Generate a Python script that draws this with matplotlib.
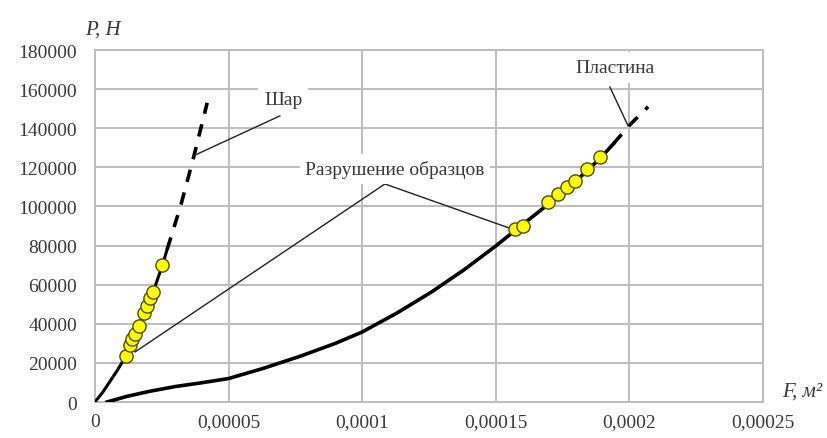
import matplotlib
matplotlib.use("Agg")
import matplotlib.pyplot as plt

# Шар (ball) curve: solid part and dashed extension
shar_F = [0.0, 0.28e-5, 0.56e-5, 0.85e-5, 1.16e-5, 1.4e-5, 1.65e-5, 1.9e-5, 2.17e-5, 2.5e-5, 2.7e-5]
shar_P = [0, 4800, 10500, 16500, 23500, 31000, 39000, 47500, 56000, 69000, 78000]
shar_dash_F = [2.7e-5, 3.2e-5, 3.67e-5, 4.2e-5]
shar_dash_P = [78000, 100000, 124000, 153000]

# Шар test points (failure)
shar_pts_F = [1.16e-5, 1.30e-5, 1.40e-5, 1.50e-5, 1.65e-5, 1.83e-5, 1.95e-5, 2.06e-5, 2.17e-5, 2.50e-5]
shar_pts_P = [23500, 29000, 32000, 35000, 39000, 45500, 49000, 53000, 56000, 70000]

# Пластина (plate) curve
plate_F = [0.45e-5, 1.2e-5, 2.06e-5, 3.0e-5, 3.93e-5, 5.0e-5, 6.3e-5, 7.7e-5, 9.0e-5,
           1.0e-4, 1.13e-4, 1.26e-4, 1.38e-4, 1.5e-4, 1.57e-4, 1.7e-4, 1.8e-4, 1.89e-4, 1.94e-4]
plate_P = [0, 2900, 5500, 7900, 9700, 12000, 17200, 23500, 30000,
           35800, 45500, 56300, 67500, 79800, 87500, 101500, 113000, 124500, 132000]
plate_dash_F = [1.94e-4, 2.0e-4, 2.07e-4]
plate_dash_P = [132000, 141500, 151000]

# Пластина test points
plate_pts_F = [1.572e-4, 1.60e-4, 1.695e-4, 1.733e-4, 1.766e-4, 1.796e-4, 1.84e-4, 1.89e-4]
plate_pts_P = [88500, 90000, 102300, 106400, 110000, 113000, 119000, 125300]

x_ticks = [0, 0.00005, 0.0001, 0.00015, 0.0002, 0.00025]
x_labels = ["0", "0,00005", "0,0001", "0,00015", "0,0002", "0,00025"]
y_ticks = list(range(0, 180001, 20000))

plt.rcParams['font.family'] = ['Liberation Serif', 'DejaVu Serif']

fig = plt.figure(figsize=(8.28, 4.39), dpi=100)
ax = fig.add_axes([0.1147, 0.082, 0.8068, 0.8018])

grid_c = '#bdbdbd'
txt_c = '#3a3a3a'

ax.set_xlim(0, 0.00025)
ax.set_ylim(0, 180000)
ax.set_xticks(x_ticks)
ax.set_xticklabels(x_labels)
ax.set_yticks(y_ticks)
ax.set_yticklabels([str(v) for v in y_ticks])
ax.tick_params(length=0, labelsize=14, labelcolor=txt_c)
ax.tick_params(axis='y', pad=13)
ax.tick_params(axis='x', pad=8)
ax.grid(True, color=grid_c, linewidth=1.4, zorder=0)
ax.set_axisbelow(True)
for s in ax.spines.values():
    s.set_color(grid_c)
    s.set_linewidth(1.4)

# curves
ax.plot(shar_F, shar_P, color='black', lw=2.2, zorder=3)
ax.plot(shar_dash_F, shar_dash_P, color='black', lw=2.6, ls=(0, (3.5, 3)), zorder=3)
ax.plot(plate_F, plate_P, color='black', lw=2.6, zorder=3)
ax.plot(plate_dash_F, plate_dash_P, color='black', lw=2.6, ls=(0, (3.5, 3)), zorder=3)

# leader lines
ax.plot([1.5e-5, 1.085e-4, 1.56e-4], [25600, 111500, 88500], color='#222222', lw=1.0, zorder=4)
ax.plot([6.92e-5, 3.67e-5], [146300, 125800], color='#222222', lw=1.0, zorder=4)
ax.plot([1.927e-4, 1.995e-4], [161100, 141200], color='#222222', lw=1.0, zorder=4)

# markers
ax.plot(shar_pts_F, shar_pts_P, ls='none', marker='o', ms=9.5, mfc='#ffff00',
        mec='#4d4d00', mew=1.0, zorder=5)
ax.plot(plate_pts_F, plate_pts_P, ls='none', marker='o', ms=9.5, mfc='#ffff00',
        mec='#4d4d00', mew=1.0, zorder=5)

box = dict(facecolor='white', edgecolor='none', pad=4)
ax.text(7.04e-5, 154500, "Шар", fontsize=14, color=txt_c, ha='center', va='center',
        bbox=box, zorder=6)
ax.text(1.123e-4, 119200, "Разрушение образцов", fontsize=14, color=txt_c,
        ha='center', va='center', bbox=box, zorder=6)
ax.text(1.946e-4, 171000, "Пластина", fontsize=14, color=txt_c, ha='center',
        va='center', bbox=dict(facecolor='white', edgecolor='none', pad=5), zorder=6)

ax.text(0.012, 1.06, "P, Н", transform=ax.transAxes, fontsize=15, style='italic',
        color=txt_c, ha='center', va='center')
ax.text(1.058, 0.03, "F, м²", transform=ax.transAxes, fontsize=15, style='italic',
        color=txt_c, ha='center', va='center', clip_on=False)

fig.savefig("out.png", dpi=100)
